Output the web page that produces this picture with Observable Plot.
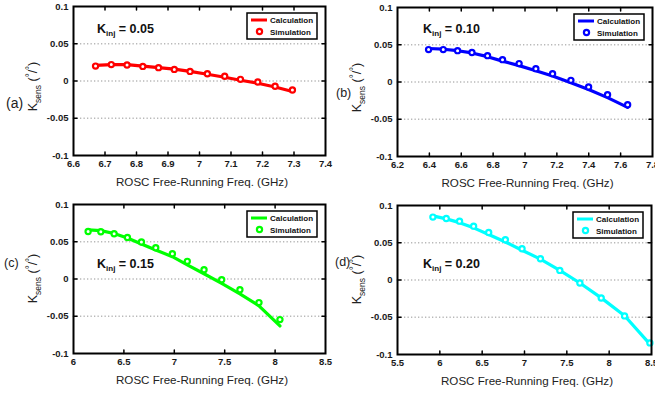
<!DOCTYPE html>
<html><head><meta charset="utf-8">
<script src="https://cdn.jsdelivr.net/npm/d3@7"></script>
<script src="https://cdn.jsdelivr.net/npm/@observablehq/plot@0.6"></script>
<style>
body{margin:0;background:#fff;}
#chart{position:relative;width:655px;height:393px;overflow:hidden;font-family:"Liberation Sans",Arial,sans-serif;}
#chart svg{position:absolute;overflow:visible;}
</style></head><body><div id="chart"></div>
<script>
// ---- data ----
const panelLetters = ["(a)", "(b)", "(c)", "(d)"];
const kinjValues = ["0.05", "0.10", "0.15", "0.20"];
const seriesColors = ["#ff0000", "#0000ff", "#00ff00", "#00ffff"];
const legendNames = ["Calculation", "Simulation"];
const xAxisTitle = "ROSC Free-Running Freq. (GHz)";
const yTicks = [-0.1, -0.05, 0, 0.05, 0.1];

const xTicksA = [6.6, 6.7, 6.8, 6.9, 7, 7.1, 7.2, 7.3, 7.4];
const freqA = [6.67, 6.72, 6.77, 6.82, 6.87, 6.92, 6.97, 7.025, 7.08, 7.13, 7.185, 7.24, 7.295];
const calcA = [0.021, 0.022, 0.022, 0.020, 0.018, 0.016, 0.013, 0.009, 0.005, 0.001, -0.003, -0.008, -0.014];
const simA = [0.020, 0.022, 0.0214, 0.0196, 0.0179, 0.0156, 0.0129, 0.0098, 0.0063, 0.0022, -0.0013, -0.0071, -0.012];

const xTicksB = [6.2, 6.4, 6.6, 6.8, 7, 7.2, 7.4, 7.6, 7.8];
const freqB = [6.395, 6.487, 6.577, 6.667, 6.765, 6.859, 6.963, 7.068, 7.173, 7.288, 7.399, 7.518, 7.644];
const calcB = [0.045, 0.044, 0.042, 0.039, 0.034, 0.028, 0.022, 0.015, 0.008, -0.001, -0.010, -0.021, -0.034];
const simB = [0.0435, 0.0435, 0.0421, 0.0395, 0.0354, 0.030, 0.0247, 0.0179, 0.0112, 0.0022, -0.0067, -0.017, -0.0305];

const xTicksC = [6, 6.5, 7, 7.5, 8, 8.5];
const freqC = [6.145, 6.271, 6.403, 6.535, 6.674, 6.816, 6.981, 7.129, 7.295, 7.470, 7.651, 7.840, 8.048];
const calcC = [0.066, 0.065, 0.061, 0.055, 0.047, 0.039, 0.030, 0.019, 0.007, -0.006, -0.020, -0.036, -0.063];
const simC = [0.0638, 0.0634, 0.0607, 0.0558, 0.0496, 0.042, 0.0339, 0.0237, 0.0125, -0.0009, -0.0143, -0.0317, -0.0545];

const xTicksD = [5.5, 6, 6.5, 7, 7.5, 8, 8.5];
const freqD = [5.918, 6.076, 6.233, 6.399, 6.577, 6.774, 6.971, 7.188, 7.417, 7.654, 7.906, 8.182, 8.481];
const calcD = [0.086, 0.082, 0.077, 0.070, 0.061, 0.051, 0.040, 0.028, 0.013, -0.004, -0.024, -0.048, -0.086];
const simD = [0.0844, 0.0826, 0.079, 0.0723, 0.0638, 0.054, 0.042, 0.0286, 0.0129, -0.004, -0.0241, -0.0482, -0.0844];

// ---- layout ----
const layout = [
  {left: 0, top: 0, width: 328, height: 196, ml: 73, mr: 3, mt: 6, mb: 41, letterX: 6, letterY: 103, letterSize: 14, ylDy: 6, kx: 24, ky: 27},
  {left: 328, top: 0, width: 327, height: 196, ml: 69, mr: 3, mt: 7, mb: 40, letterX: 8, letterY: 93, letterSize: 12.5, ylDy: 6, kx: 26, ky: 26},
  {left: 0, top: 196, width: 328, height: 197, ml: 73, mr: 3, mt: 8, mb: 40, letterX: 4, letterY: 67, letterSize: 12.5, ylDy: 0, kx: 24, ky: 64},
  {left: 328, top: 196, width: 327, height: 197, ml: 69, mr: 4, mt: 9, mb: 39, letterX: 7, letterY: 66, letterSize: 12.5, ylDy: 0, kx: 26, ky: 63}
];
const panels = [
  {xTicks: xTicksA, freq: freqA, calc: calcA, sim: simA},
  {xTicks: xTicksB, freq: freqB, calc: calcB, sim: simB},
  {xTicks: xTicksC, freq: freqC, calc: calcC, sim: simC},
  {xTicks: xTicksD, freq: freqD, calc: calcD, sim: simD}
];

const tickShape = {draw(context, l) { context.moveTo(0, 0); context.lineTo(0, -l); }};
const chart = document.getElementById("chart");

panels.forEach((p, i) => {
  const L = layout[i];
  const color = seriesColors[i];
  const xd = [p.xTicks[0], p.xTicks[p.xTicks.length - 1]];
  const yd = [yTicks[0], yTicks[yTicks.length - 1]];
  const calcRows = p.freq.map((f, j) => ({f, v: p.calc[j]}));
  const simRows = p.freq.map((f, j) => ({f, v: p.sim[j]}));
  const xInner = p.xTicks.slice(1, -1);
  const yInner = yTicks.slice(1, -1);
  const tickStyle = {length: 3.5, anchor: "start", shape: tickShape, stroke: "black", strokeWidth: 1.5};

  const svg = Plot.plot({
    width: L.width, height: L.height,
    marginLeft: L.ml, marginRight: L.mr, marginTop: L.mt, marginBottom: L.mb,
    x: {domain: xd},
    y: {domain: yd},
    style: {fontFamily: "Liberation Sans, Arial, sans-serif", fontSize: "9.5px", fontWeight: "bold", color: "#1a1a1a", background: "transparent", overflow: "visible"},
    marks: [
      Plot.gridY(yInner, {stroke: "#b8b8b8", strokeOpacity: 1, strokeWidth: 1.3, strokeDasharray: "1.3,2.2"}),
      Plot.line(calcRows, {x: "f", y: "v", stroke: color, strokeWidth: 3.2}),
      Plot.dot(simRows, {x: "f", y: "v", r: 2.6, stroke: color, strokeWidth: 2.2, fill: "white"}),
      Plot.vector(xInner, {x: d => d, y: () => yd[0], rotate: 0, ...tickStyle}),
      Plot.vector(xInner, {x: d => d, y: () => yd[1], rotate: 180, ...tickStyle}),
      Plot.vector(yInner, {y: d => d, x: () => xd[0], rotate: 90, ...tickStyle}),
      Plot.vector(yInner, {y: d => d, x: () => xd[1], rotate: 270, ...tickStyle}),
      Plot.frame({stroke: "black", strokeWidth: 2}),
      Plot.axisX(p.xTicks, {label: null, tickSize: 0, tickPadding: 5, tickFormat: d => String(d)}),
      Plot.axisY(yTicks, {label: null, tickSize: 0, tickPadding: 5, tickFormat: d => String(d)})
    ]
  });
  svg.style.left = L.left + "px";
  svg.style.top = L.top + "px";
  chart.appendChild(svg);

  const s = d3.select(svg);
  const g = s.append("g").attr("text-anchor", "start");
  const pl = L.ml, pr = L.width - L.mr, pt = L.mt, pb = L.height - L.mb;
  const cx = (pl + pr) / 2, cy = (pt + pb) / 2;

  // x axis title
  g.append("text").attr("x", cx + 3).attr("y", pb + 31).attr("text-anchor", "middle")
    .style("font-size", "11.6px").style("font-weight", "normal").attr("fill", "#222").text(xAxisTitle);

  // y axis title  K_sens (°/°)
  const yl = g.append("text").attr("transform", `translate(${pl - 36},${cy + L.ylDy}) rotate(-90)`)
    .attr("text-anchor", "middle").style("font-size", "12.5px").style("font-weight", "normal").attr("fill", "#222");
  yl.append("tspan").text("K");
  yl.append("tspan").attr("dy", 3.5).style("font-size", "8.5px").text("sens");
  yl.append("tspan").attr("dy", -3.5).text(" (");
  yl.append("tspan").attr("dy", -4).style("font-size", "10px").text("°");
  yl.append("tspan").attr("dy", 4).text("/");
  yl.append("tspan").attr("dy", -4).style("font-size", "10px").text("°");
  yl.append("tspan").attr("dy", 4).text(")");

  // panel letter
  g.append("text").attr("x", L.letterX).attr("y", L.letterY).attr("dy", "0.35em").attr("text-anchor", "start")
    .style("font-size", L.letterSize + "px").style("font-weight", "normal").attr("fill", "#222").text(panelLetters[i]);

  // K_inj annotation
  const kt = g.append("text").attr("x", pl + L.kx).attr("y", pt + L.ky).attr("text-anchor", "start")
    .style("font-size", "12.5px").style("font-weight", "bold").attr("fill", "#111");
  kt.append("tspan").text("K");
  kt.append("tspan").attr("dy", 3).style("font-size", "8px").text("inj");
  kt.append("tspan").attr("dy", -3).text(" = " + kinjValues[i]);

  // legend
  const lw = 70, lh = 26;
  const lx = pr - 8 - lw, ly = pt + 7;
  const lg = g.append("g").attr("text-anchor", "start");
  lg.append("rect").attr("x", lx).attr("y", ly).attr("width", lw).attr("height", lh)
    .attr("fill", "white").attr("stroke", "black").attr("stroke-width", 1.5);
  lg.append("line").attr("x1", lx + 4).attr("x2", lx + 20).attr("y1", ly + 7).attr("y2", ly + 7)
    .attr("stroke", color).attr("stroke-width", 3);
  lg.append("circle").attr("cx", lx + 12.5).attr("cy", ly + 18.5).attr("r", 2.6)
    .attr("stroke", color).attr("stroke-width", 2.2).attr("fill", "white");
  lg.append("text").attr("x", lx + 23).attr("y", ly + 10).attr("text-anchor", "start").style("font-size", "8px").style("font-weight", "bold").attr("fill", "#111").text(legendNames[0]);
  lg.append("text").attr("x", lx + 23).attr("y", ly + 21.5).attr("text-anchor", "start").style("font-size", "8px").style("font-weight", "bold").attr("fill", "#111").text(legendNames[1]);
});
</script></body></html>
